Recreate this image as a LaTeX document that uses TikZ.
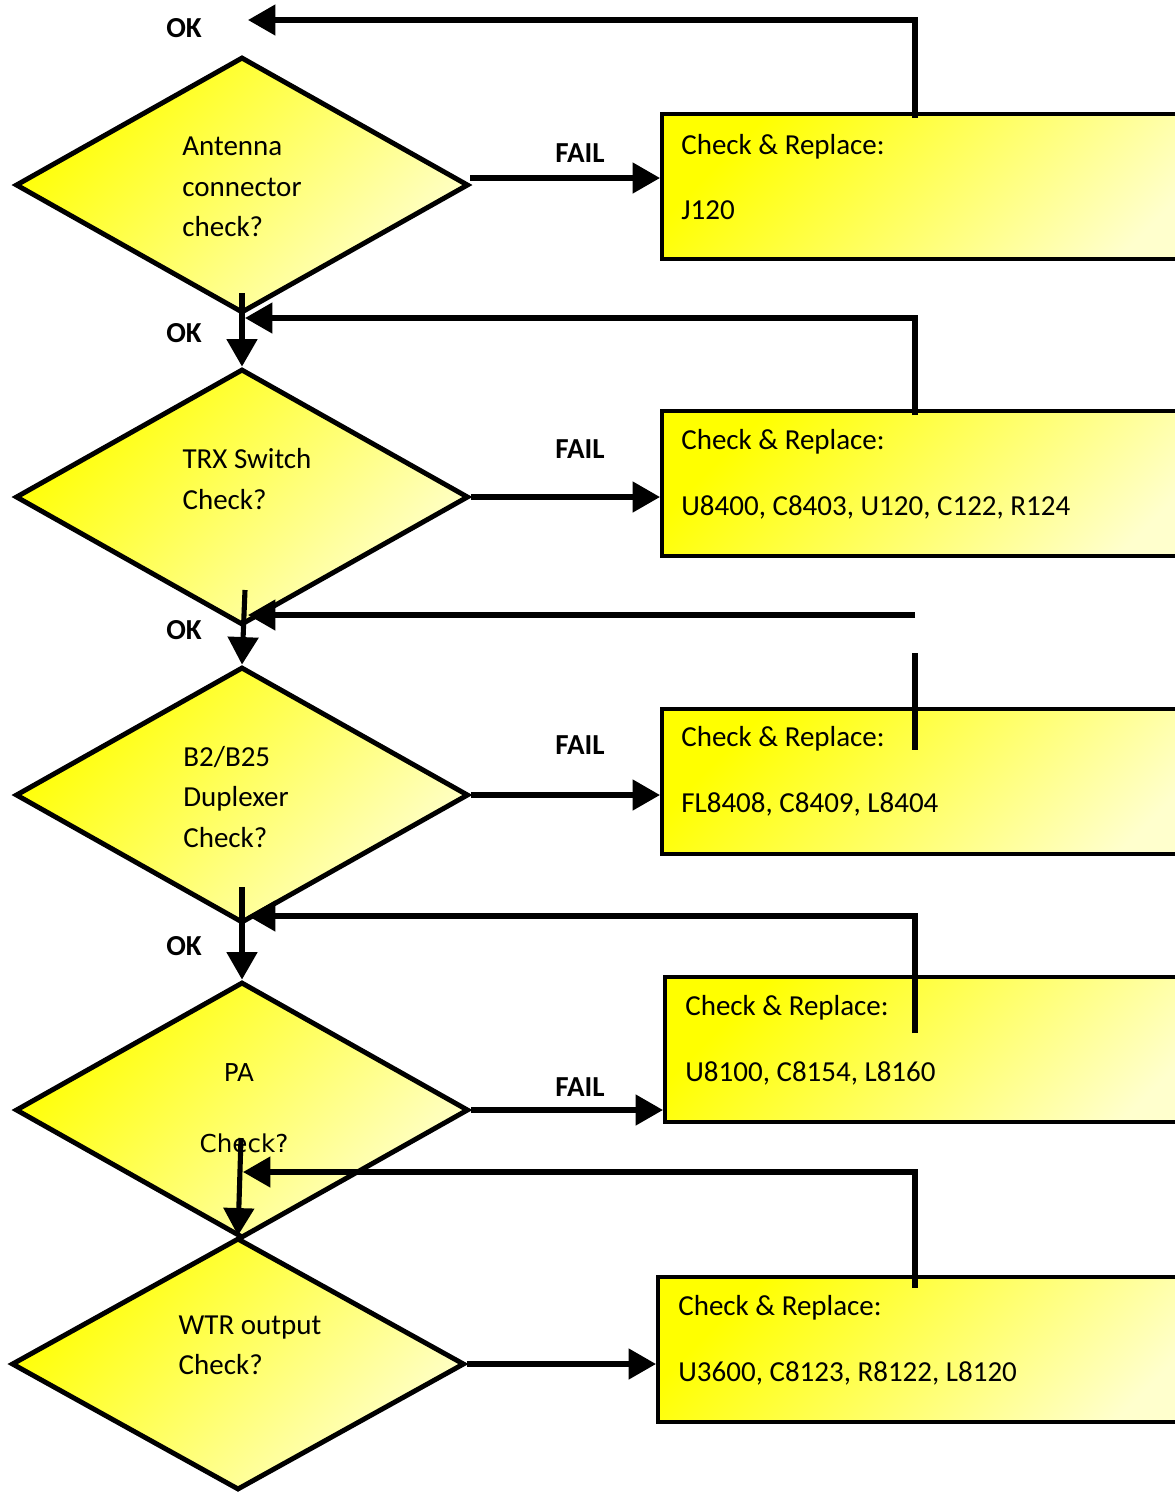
\documentclass[tikz,border=0pt]{standalone}
\usepackage{fontspec}
\setmainfont{Carlito}
\newfontfamily\pafont{DejaVu Sans}
\usepackage{tikz}
\usetikzlibrary{arrows.meta,shapes.geometric,positioning}
\definecolor{dfyellow}{RGB}{255,255,0}
\definecolor{dfpale}{RGB}{255,255,205}
\tikzstyle{decision} = [diamond, minimum width=9.06cm, minimum height=5.12cm, inner sep=0pt, draw=black, line width=2.8pt, top color=dfyellow, bottom color=dfpale, shading angle=45]
\tikzstyle{process} = [rectangle, anchor=north west, minimum width=11.2cm, minimum height=2.9cm, draw=black, line width=2.4pt, top color=dfyellow, bottom color=dfpale, shading angle=45]
\tikzstyle{qtext} = [align=left, font=\fontsize{16.5}{19.5}\selectfont]
\tikzstyle{ptext} = [anchor=west, align=left, inner xsep=0pt, font=\fontsize{16.5}{19.5}\selectfont]
\tikzstyle{tag} = [font=\bfseries\fontsize{16.5}{19.5}\selectfont]
\tikzstyle{arrow} = [line width=2.9pt, -{Triangle[length=0.55cm, width=0.6cm]}]
\tikzstyle{wire} = [line width=2.9pt]

\begin{document}
\begin{tikzpicture}[x=0.02cm, y=-0.02cm]
\useasboundingbox (0,0) rectangle (1175,1492);

% Checks
\node (d1) [decision] at (242,185) {};
\node (d2) [decision] at (242,497) {};
\node (d3) [decision] at (242,795) {};
\node (d4) [decision] at (242,1110) {};
\node (d5) [decision, minimum height=5.04cm] at (238,1364) {};

\node (q1) [qtext] at (242,187) {Antenna\\[3.5pt]connector\\[3.5pt]check?};
\node (q2) [qtext] at (247,479) {TRX Switch\\[3.5pt]Check?};
\node (q3) [qtext] at (236,797) {B2/B25\\[3.5pt]Duplexer\\[3.5pt]Check?};
\node (q4a) [qtext, font=\pafont\fontsize{14}{17}\selectfont] at (239,1073) {PA};
\node (q4b) [qtext, font=\pafont\fontsize{14}{17}\selectfont] at (244,1143) {Check?};
\node (q5) [qtext] at (250,1345) {WTR output\\[3.5pt]Check?};

% Parts to replace
\node (b1) [process] at (660,112) {};
\node (b2) [process] at (660,409) {};
\node (b3) [process] at (660,707) {};
\node (b4) [process] at (663,975) {};
\node (b5) [process] at (656,1275) {};

\node (t1) [ptext] at (681,177) {Check \& Replace:\\[18pt]J120};
\node (t2) [ptext] at (681,474) {Check \& Replace:\\[18pt]U8400, C8403, U120, C122, R124};
\node (t3) [ptext] at (681,771) {Check \& Replace:\\[18pt]FL8408, C8409, L8404};
\node (t4) [ptext] at (685,1040) {Check \& Replace:\\[18pt]U8100, C8154, L8160};
\node (t5) [ptext] at (678,1340) {Check \& Replace:\\[18pt]U3600, C8123, R8122, L8120};

% Labels
\node (ok1) [tag] at (184,28) {OK};
\node (ok2) [tag] at (184,333) {OK};
\node (ok3) [tag] at (184,630) {OK};
\node (ok4) [tag] at (184,946) {OK};
\node (f1) [tag] at (580,153) {FAIL};
\node (f2) [tag] at (580,449) {FAIL};
\node (f3) [tag] at (580,745) {FAIL};
\node (f4) [tag] at (580,1087) {FAIL};

% Return paths
\coordinate (r1) at (915,118);
\coordinate (e1) at (248,20);
\coordinate (r2) at (915,415);
\coordinate (e2) at (245,318);
\coordinate (r3) at (915,615);
\coordinate (e3) at (248,615);
\coordinate (u3) at (915,653);
\coordinate (v3) at (915,750);
\coordinate (r4) at (915,1033);
\coordinate (e4) at (248,916);
\coordinate (r5) at (915,1288);
\coordinate (e5) at (243,1172);
\coordinate (s1) at (242,293);
\coordinate (s2) at (245,590);
\coordinate (s3) at (242,887);
\coordinate (s4) at (241,1138);
\coordinate (a1) at (470,178);

% FAIL arrows
\draw[arrow] (a1) -- (a1 -| b1.west);
\draw[arrow] (d2.east) -- (d2.east -| b2.west);
\draw[arrow] (d3.east) -- (d3.east -| b3.west);
\draw[arrow] (d4.east) -- (d4.east -| b4.west);
\draw[arrow] (d5.east) -- (d5.east -| b5.west);

% OK arrows
\draw[arrow] (r1) |- (e1);
\draw[arrow] (r2) |- (e2);
\draw[arrow] (r3) -- (e3);
\draw[wire] (u3) -- (v3);
\draw[arrow] (r4) |- (e4);
\draw[arrow] (r5) |- (e5);
\draw[arrow] (s1) -- (d2.north);
\draw[arrow] (s2) -- (d3.north);
\draw[arrow] (s3) -- (d4.north);
\draw[arrow] (s4) -- (d5.north);
\end{tikzpicture}
\end{document}
